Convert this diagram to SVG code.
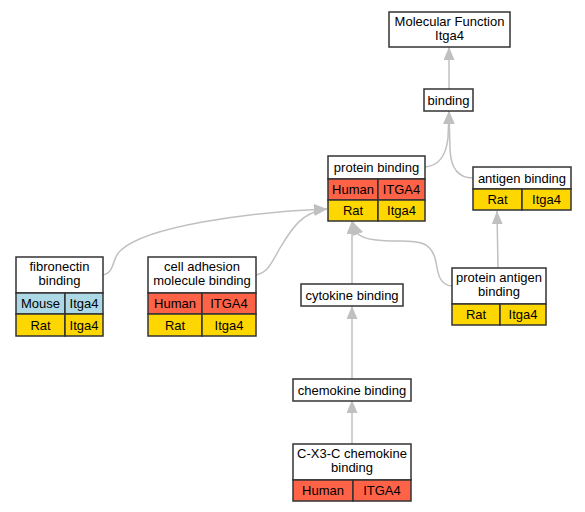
<svg xmlns="http://www.w3.org/2000/svg" width="585" height="512" viewBox="0 0 585 512">
<style>
text{font-family:"Liberation Sans",Arial,sans-serif;font-size:13px;fill:#000;text-anchor:middle}
.b{stroke:#333;stroke-width:1.5}
.w{fill:#fff}
.h{fill:#ff6347}
.r{fill:#ffd700}
.m{fill:#add8e6}
.e{fill:none;stroke:#c0c0c0;stroke-width:1.5;marker-end:url(#a)}
</style>
<defs>
<marker id="a" markerUnits="userSpaceOnUse" markerWidth="14" markerHeight="12" refX="13" refY="5.5" orient="auto"><path d="M0,0 L13,5.5 L0,11 z" fill="#c0c0c0"/></marker>
</defs>
<rect width="585" height="512" fill="#fff"/>
<g id="edges">
<path class="e" d="M449,89 L449,47"/>
<path class="e" d="M425,167 C438,166 446,156 448,138 L449,111"/>
<path class="e" d="M473,178 C460,178 451,170 450,150 L449,111"/>
<path class="e" d="M103,275 C115,273 112,258 120,251 C145,226 250,212 327,209"/>
<path class="e" d="M256,275 C268,273 272,262 280,248 C292,228 302,212 327,209"/>
<path class="e" d="M352,284 L352,221"/>
<path class="e" d="M452,286 C440,285 438,275 436,262 C432,242 420,241 400,241 C380,241 365,240 358,234 L353,222"/>
<path class="e" d="M498,268 L497,211"/>
<path class="e" d="M352,379 L352,306"/>
<path class="e" d="M352,444 L352,400"/>
</g>
<g id="mf">
<rect class="b w" x="389" y="12" width="121" height="35"/>
<text x="449.5" y="26">Molecular Function</text>
<text x="449.5" y="40">Itga4</text>
</g>
<g id="binding">
<rect class="b w" x="424" y="89" width="49" height="22"/>
<text x="448.5" y="104.5">binding</text>
</g>
<g id="protein_binding">
<rect class="b w" x="328" y="156" width="97" height="23"/>
<rect class="b h" x="328" y="179" width="50" height="21"/>
<rect class="b h" x="378" y="179" width="47" height="21"/>
<rect class="b r" x="328" y="200" width="50" height="21"/>
<rect class="b r" x="378" y="200" width="47" height="21"/>
<text x="376.5" y="171.5">protein binding</text>
<text x="353" y="194">Human</text>
<text x="401.5" y="194">ITGA4</text>
<text x="353" y="215">Rat</text>
<text x="401.5" y="215">Itga4</text>
</g>
<g id="antigen_binding">
<rect class="b w" x="473" y="167" width="98" height="22"/>
<rect class="b r" x="473" y="189" width="49" height="21"/>
<rect class="b r" x="522" y="189" width="49" height="21"/>
<text x="522" y="182.5">antigen binding</text>
<text x="497.5" y="204">Rat</text>
<text x="546.5" y="204">Itga4</text>
</g>
<g id="fibronectin">
<rect class="b w" x="16" y="257" width="87" height="36"/>
<rect class="b m" x="16" y="293" width="49" height="21"/>
<rect class="b m" x="65" y="293" width="38" height="21"/>
<rect class="b r" x="16" y="314" width="49" height="22"/>
<rect class="b r" x="65" y="314" width="38" height="22"/>
<text x="59.5" y="271">fibronectin</text>
<text x="59.5" y="285">binding</text>
<text x="40.5" y="308">Mouse</text>
<text x="84" y="308">Itga4</text>
<text x="40.5" y="329.5">Rat</text>
<text x="84" y="329.5">Itga4</text>
</g>
<g id="cell_adhesion">
<rect class="b w" x="148" y="257" width="108" height="36"/>
<rect class="b h" x="148" y="293" width="54" height="21"/>
<rect class="b h" x="202" y="293" width="54" height="21"/>
<rect class="b r" x="148" y="314" width="54" height="22"/>
<rect class="b r" x="202" y="314" width="54" height="22"/>
<text x="202" y="271">cell adhesion</text>
<text x="202" y="285">molecule binding</text>
<text x="175" y="308">Human</text>
<text x="229" y="308">ITGA4</text>
<text x="175" y="329.5">Rat</text>
<text x="229" y="329.5">Itga4</text>
</g>
<g id="cytokine">
<rect class="b w" x="301" y="284" width="102" height="22"/>
<text x="352" y="299.5">cytokine binding</text>
</g>
<g id="protein_antigen">
<rect class="b w" x="452" y="268" width="94" height="36"/>
<rect class="b r" x="452" y="304" width="48" height="21"/>
<rect class="b r" x="500" y="304" width="46" height="21"/>
<text x="499" y="282">protein antigen</text>
<text x="499" y="296">binding</text>
<text x="476" y="319">Rat</text>
<text x="523" y="319">Itga4</text>
</g>
<g id="chemokine">
<rect class="b w" x="293" y="379" width="118" height="22"/>
<text x="352" y="394.5">chemokine binding</text>
</g>
<g id="cx3c">
<rect class="b w" x="293" y="444" width="118" height="36"/>
<rect class="b h" x="293" y="480" width="60" height="21"/>
<rect class="b h" x="353" y="480" width="58" height="21"/>
<text x="352" y="458">C-X3-C chemokine</text>
<text x="352" y="472">binding</text>
<text x="323" y="495">Human</text>
<text x="382" y="495">ITGA4</text>
</g>
</svg>
